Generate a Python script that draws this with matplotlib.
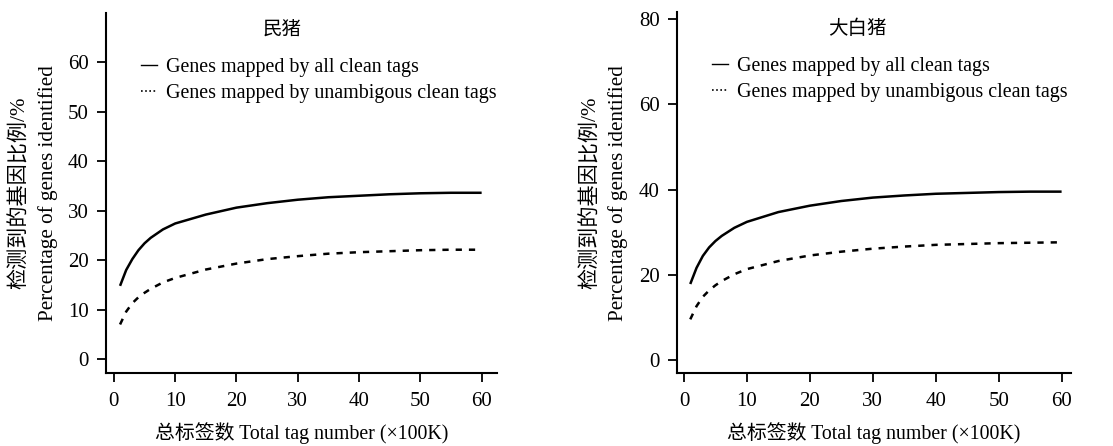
import matplotlib
matplotlib.use("Agg")
import matplotlib.pyplot as plt
from matplotlib.lines import Line2D

# data (x in 100K tags, y in %)
tags = [1, 2, 3, 4, 5, 6, 8, 10, 15, 20, 25, 30, 35, 40, 45, 50, 55, 60]

min_all = [14.8, 18.0, 20.2, 22.0, 23.4, 24.5, 26.2, 27.4, 29.2, 30.6, 31.5, 32.2, 32.7, 33.0, 33.3, 33.5, 33.6, 33.6]
min_unamb = [7.0, 9.6, 11.3, 12.5, 13.4, 14.2, 15.5, 16.4, 18.1, 19.3, 20.2, 20.8, 21.3, 21.6, 21.8, 22.0, 22.1, 22.1]

lw_all = [17.8, 21.6, 24.4, 26.4, 27.9, 29.1, 31.0, 32.4, 34.7, 36.2, 37.3, 38.1, 38.6, 39.0, 39.2, 39.4, 39.5, 39.5]
lw_unamb = [9.5, 12.6, 14.8, 16.3, 17.5, 18.5, 20.1, 21.3, 23.2, 24.5, 25.4, 26.1, 26.6, 27.0, 27.2, 27.4, 27.5, 27.6]

panels = [
    ("民猪", min_all, min_unamb, [0, 10, 20, 30, 40, 50, 60], (-2.8, 69.9), (-1.3, 62.5),
     [0.0952, 0.1637, 0.3513, 0.807], 0.45, (20, 48)),
    ("大白猪", lw_all, lw_unamb, [0, 20, 40, 60, 80], (-3.1, 81.7), (-1.1, 61.5),
     [0.6083, 0.1637, 0.354, 0.8094], 0.457, (591, 618)),
]

FONT = ["Liberation Serif", "Noto Sans CJK SC"]
plt.rcParams["font.family"] = FONT

W, H = 1113, 446
fig = plt.figure(figsize=(W / 100, H / 100), dpi=100)

for title, y_all, y_unamb, yticks, ylim, xlim, rect, title_x, ylab_x in panels:
    ax = fig.add_axes(rect)
    ax.plot(tags, y_all, color="black", lw=1.8, solid_capstyle="butt")
    ax.plot(tags, y_unamb, color="black", lw=1.8, linestyle=(0, (2.5, 2.8)))

    ax.set_xlim(*xlim)
    ax.set_ylim(*ylim)
    ax.set_xticks([0, 10, 20, 30, 40, 50, 60])
    ax.set_yticks(yticks)
    ax.tick_params(labelsize=15, length=6.5, width=1.3, direction="out")
    ax.tick_params(axis="x", pad=7)
    ax.tick_params(axis="y", pad=6)

    for side in ["top", "right"]:
        ax.spines[side].set_visible(False)
    for side in ["left", "bottom"]:
        ax.spines[side].set_linewidth(1.5)

    ax.text(title_x, 0.955, title, transform=ax.transAxes, ha="center", va="center",
            fontsize=14, family=["Noto Sans CJK SC"])

    handles = [Line2D([], [], color="black", lw=1.0),
               Line2D([], [], color="black", lw=1.2, linestyle=(0, (1, 1.5)))]
    ax.legend(handles, ["Genes mapped by all clean tags",
                        "Genes mapped by unambigous clean tags"],
              loc="upper left", bbox_to_anchor=(0.09, 0.875), frameon=False,
              fontsize=14.4, handlelength=0.8, handletextpad=0.45,
              labelspacing=0.35, borderaxespad=0, borderpad=0)

    # two-line y label, placed like the reference
    fig.text(ylab_x[0] / W, 1 - 193 / H, "检测到的基因比例/%", rotation=90,
             ha="center", va="center", fontsize=15.2)
    fig.text(ylab_x[1] / W, 1 - 193 / H, "Percentage of genes identified", rotation=90,
             ha="center", va="center", fontsize=15.2)
    ax.set_xlabel("总标签数 Total tag number (×100K)", fontsize=14.3, labelpad=8)

fig.savefig("out.png", dpi=100)
